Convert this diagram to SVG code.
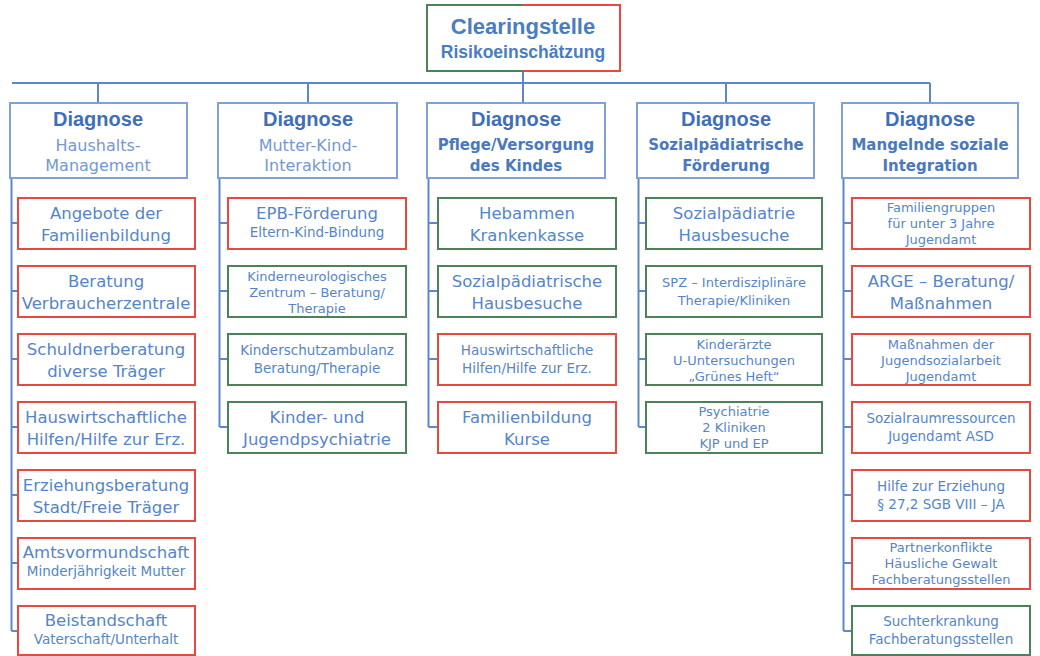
<svg xmlns="http://www.w3.org/2000/svg" width="1040" height="656" viewBox="0 0 1040 656">
<style>
text{font-family:"DejaVu Sans","Liberation Sans",sans-serif;text-anchor:middle;fill:#5585c8}
.hb{fill:#fff;stroke:#7ea2d8;stroke-width:2}
.r{fill:#fff;stroke:#e8493e;stroke-width:2}
.g{fill:#fff;stroke:#4c8259;stroke-width:2}
.c{fill:none;stroke:#5a88cc;stroke-width:2}
.dg{font-family:"Liberation Sans",sans-serif;font-size:20px;font-weight:bold;fill:#3f6fb6}
.st{font-size:16px;fill:#7399d0}
.sb{font-size:15px;font-weight:bold;fill:#4a79be}
.L{font-size:16.5px}
.S{font-size:13.5px}
.T{font-size:13px}
</style>
<rect width="1040" height="656" fill="#fff"/>
<g id="connectors" class="c">
<path d="M523 71V83M12 83H930M98 83V103M308 83V103M523 83V103M726 83V103M930 83V103"/>
<path d="M11.5 178V631M11.5 223H18M11.5 291H18M11.5 359H18M11.5 427H18M11.5 495H18M11.5 563H18M11.5 631H18"/>
<path d="M219.5 178V427M219.5 223H228M219.5 291H228M219.5 359H228M219.5 427H228"/>
<path d="M428.5 178V427M428.5 223H438M428.5 291H438M428.5 359H438M428.5 427H438"/>
<path d="M638.5 178V427M638.5 223H646M638.5 291H646M638.5 359H646M638.5 427H646"/>
<path d="M843.5 178V631M843.5 223H852M843.5 291H852M843.5 359H852M843.5 427H852M843.5 495H852M843.5 563H852M843.5 631H852"/>
</g>
<g id="clearingstelle">
<rect x="427" y="5" width="193" height="66" fill="#fff"/>
<path d="M523 5H427V71H523" fill="none" stroke="#4c8259" stroke-width="2"/>
<path d="M523 5H620V71H523" fill="none" stroke="#e8493e" stroke-width="2"/>
<text x="523" y="34" style="font-family:'Liberation Sans',sans-serif;font-size:22px;font-weight:bold;fill:#4a7cc2">Clearingstelle</text>
<text x="523" y="58" style="font-family:'Liberation Sans',sans-serif;font-size:17.5px;font-weight:bold;fill:#4a7cc2">Risikoeinschätzung</text>
</g>
<g id="h1"><rect class="hb" x="10" y="103" width="177" height="75"/><text class="dg" x="98" y="126">Diagnose</text><text class="st" x="98" y="151">Haushalts-</text><text class="st" x="98" y="171">Management</text></g>
<g id="h2"><rect class="hb" x="218" y="103" width="179" height="75"/><text class="dg" x="308" y="126">Diagnose</text><text class="st" x="308" y="151">Mutter-Kind-</text><text class="st" x="308" y="171">Interaktion</text></g>
<g id="h3"><rect class="hb" x="427" y="103" width="178" height="75"/><text class="dg" x="516" y="126">Diagnose</text><text class="sb" x="516" y="150">Pflege/Versorgung</text><text class="sb" x="516" y="171">des Kindes</text></g>
<g id="h4"><rect class="hb" x="637" y="103" width="177" height="75"/><text class="dg" x="726" y="126">Diagnose</text><text class="sb" x="726" y="150">Sozialpädiatrische</text><text class="sb" x="726" y="171">Förderung</text></g>
<g id="h5"><rect class="hb" x="842" y="103" width="176" height="75"/><text class="dg" x="930" y="126">Diagnose</text><text class="sb" x="930" y="150">Mangelnde soziale</text><text class="sb" x="930" y="171">Integration</text></g>

<g id="c1a"><rect class="r" x="18" y="198" width="177" height="51"/><text class="L" x="106" y="219">Angebote der</text><text class="L" x="106" y="241">Familienbildung</text></g>
<g id="c1b"><rect class="r" x="18" y="266" width="177" height="51"/><text class="L" x="106" y="287">Beratung</text><text class="L" x="106" y="309">Verbraucherzentrale</text></g>
<g id="c1c"><rect class="r" x="18" y="334" width="177" height="51"/><text class="L" x="106" y="355">Schuldnerberatung</text><text class="L" x="106" y="377">diverse Träger</text></g>
<g id="c1d"><rect class="r" x="18" y="402" width="177" height="51"/><text class="L" x="106" y="423">Hauswirtschaftliche</text><text class="L" x="106" y="445">Hilfen/Hilfe zur Erz.</text></g>
<g id="c1e"><rect class="r" x="18" y="470" width="177" height="51"/><text class="L" x="106" y="491">Erziehungsberatung</text><text class="L" x="106" y="513">Stadt/Freie Träger</text></g>
<g id="c1f"><rect class="r" x="18" y="538" width="177" height="51"/><text class="L" x="106" y="558">Amtsvormundschaft</text><text class="S" x="106" y="576">Minderjährigkeit Mutter</text></g>
<g id="c1g"><rect class="r" x="18" y="606" width="177" height="49"/><text class="L" x="106" y="626">Beistandschaft</text><text class="S" x="106" y="644">Vaterschaft/Unterhalt</text></g>

<g id="c2a"><rect class="r" x="228" y="198" width="178" height="51"/><text class="L" x="317" y="219">EPB-Förderung</text><text class="S" x="317" y="237">Eltern-Kind-Bindung</text></g>
<g id="c2b"><rect class="g" x="228" y="266" width="178" height="51"/><text class="T" x="317" y="281">Kinderneurologisches</text><text class="T" x="317" y="297">Zentrum – Beratung/</text><text class="T" x="317" y="313">Therapie</text></g>
<g id="c2c"><rect class="g" x="228" y="334" width="178" height="51"/><text class="S" x="317" y="355">Kinderschutzambulanz</text><text class="S" x="317" y="373">Beratung/Therapie</text></g>
<g id="c2d"><rect class="g" x="228" y="402" width="178" height="51"/><text class="L" x="317" y="423">Kinder- und</text><text class="L" x="317" y="445">Jugendpsychiatrie</text></g>

<g id="c3a"><rect class="g" x="438" y="198" width="178" height="51"/><text class="L" x="527" y="219">Hebammen</text><text class="L" x="527" y="241">Krankenkasse</text></g>
<g id="c3b"><rect class="g" x="438" y="266" width="178" height="51"/><text class="L" x="527" y="287">Sozialpädiatrische</text><text class="L" x="527" y="309">Hausbesuche</text></g>
<g id="c3c"><rect class="r" x="438" y="334" width="178" height="51"/><text class="S" x="527" y="355">Hauswirtschaftliche</text><text class="S" x="527" y="373">Hilfen/Hilfe zur Erz.</text></g>
<g id="c3d"><rect class="r" x="438" y="402" width="178" height="51"/><text class="L" x="527" y="423">Familienbildung</text><text class="L" x="527" y="445">Kurse</text></g>

<g id="c4a"><rect class="g" x="646" y="198" width="176" height="51"/><text class="L" x="734" y="219">Sozialpädiatrie</text><text class="L" x="734" y="241">Hausbesuche</text></g>
<g id="c4b"><rect class="g" x="646" y="266" width="176" height="51"/><text class="T" x="734" y="287">SPZ – Interdisziplinäre</text><text class="T" x="734" y="305">Therapie/Kliniken</text></g>
<g id="c4c"><rect class="g" x="646" y="334" width="176" height="51"/><text class="T" x="734" y="349">Kinderärzte</text><text class="T" x="734" y="365">U-Untersuchungen</text><text class="T" x="734" y="381">„Grünes Heft“</text></g>
<g id="c4d"><rect class="g" x="646" y="402" width="176" height="51"/><text class="T" x="734" y="416">Psychiatrie</text><text class="T" x="734" y="432">2 Kliniken</text><text class="T" x="734" y="448">KJP und EP</text></g>

<g id="c5a"><rect class="r" x="852" y="198" width="178" height="51"/><text class="T" x="941" y="212">Familiengruppen</text><text class="T" x="941" y="228">für unter 3 Jahre</text><text class="T" x="941" y="244">Jugendamt</text></g>
<g id="c5b"><rect class="r" x="852" y="266" width="178" height="51"/><text class="L" x="941" y="287">ARGE – Beratung/</text><text class="L" x="941" y="309">Maßnahmen</text></g>
<g id="c5c"><rect class="r" x="852" y="334" width="178" height="51"/><text class="T" x="941" y="349">Maßnahmen der</text><text class="T" x="941" y="365">Jugendsozialarbeit</text><text class="T" x="941" y="381">Jugendamt</text></g>
<g id="c5d"><rect class="r" x="852" y="402" width="178" height="51"/><text class="S" x="941" y="423">Sozialraumressourcen</text><text class="S" x="941" y="441">Jugendamt ASD</text></g>
<g id="c5e"><rect class="r" x="852" y="470" width="178" height="51"/><text class="S" x="941" y="491">Hilfe zur Erziehung</text><text class="S" x="941" y="509">§ 27,2 SGB VIII – JA</text></g>
<g id="c5f"><rect class="r" x="852" y="538" width="178" height="51"/><text class="T" x="941" y="552">Partnerkonflikte</text><text class="T" x="941" y="568">Häusliche Gewalt</text><text class="T" x="941" y="584">Fachberatungsstellen</text></g>
<g id="c5g"><rect class="g" x="852" y="606" width="178" height="49"/><text class="S" x="941" y="626">Suchterkrankung</text><text class="S" x="941" y="644">Fachberatungsstellen</text></g>
</svg>
